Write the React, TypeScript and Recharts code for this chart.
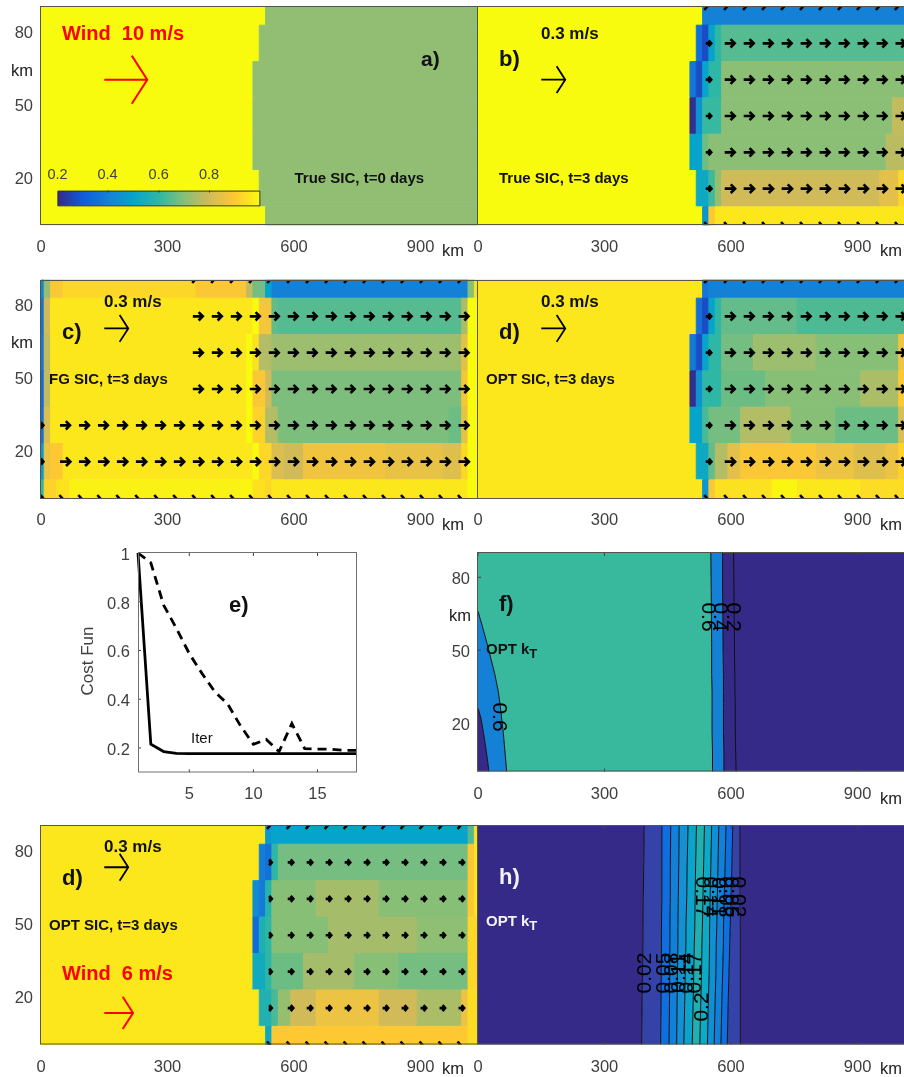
import React from "react";
import { ScatterChart, ComposedChart, Scatter, Area, Line, XAxis, YAxis, ReferenceArea } from "recharts";

const FONT = "'Liberation Sans', Arial, sans-serif";
const GREY = "#404040";
const X_TICKS = [0, 300, 600, 900];
const Y_TICKS = [20, 50, 80];
const X_MAX = 1035;
const Y_MAX = 90;
const ROW_CENTRES = [90, 75, 60, 45, 30, 15, 0];

// parula-like colormap: 0.2 .. 1.0
const PALETTE_VALUES = [0.2, 0.3, 0.4, 0.5, 0.6, 0.7, 0.8, 0.9, 1.0];
const PALETTE_COLOURS = ["#352a87", "#0f5cdd", "#1481d6", "#06a4ca", "#2eb7a4", "#87bf77", "#d1bb59", "#fec832", "#f9fb0e"];

function hex(c: string) {
  return [1, 3, 5].map((i) => parseInt(c.slice(i, i + 2), 16));
}
function sicColour(v: number) {
  let i = 0;
  while (i < PALETTE_VALUES.length - 2 && v > PALETTE_VALUES[i + 1]) i++;
  const t = Math.max(0, Math.min(1, (v - PALETTE_VALUES[i]) / 0.1));
  const a = hex(PALETTE_COLOURS[i]);
  const b = hex(PALETTE_COLOURS[i + 1]);
  return `rgb(${a.map((q, k) => Math.round(q + (b[k] - q) * t)).join(",")})`;
}

type Seg = number[];
// each row: [right edge km, SIC], rows top to bottom
const sicA: Seg[][] = [
  [[532.5, 1], [1035, 0.715]],
  [[517.5, 1], [1035, 0.715]],
  [[502.5, 1], [1035, 0.715]],
  [[502.5, 1], [1035, 0.715]],
  [[502.5, 1], [1035, 0.715]],
  [[517.5, 1], [1035, 0.715]],
  [[532.5, 1], [1035, 0.715]],
];
const sicB: Seg[][] = [
  [[532.5, 1], [1035, 0.4]],
  [[517.5, 1], [532.5, 0.35], [547.5, 0.27], [562.5, 0.5], [577.5, 0.6], [1035, 0.645]],
  [[502.5, 1], [517.5, 0.37], [532.5, 0.27], [547.5, 0.5], [577.5, 0.6], [1035, 0.705]],
  [[502.5, 1], [517.5, 0.21], [532.5, 0.45], [577.5, 0.61], [982.5, 0.705], [1035, 0.78]],
  [[502.5, 1], [532.5, 0.5], [547.5, 0.67], [967.5, 0.705], [1035, 0.77]],
  [[517.5, 1], [547.5, 0.52], [562.5, 0.62], [577.5, 0.72], [952.5, 0.8], [997.5, 0.84], [1035, 0.93]],
  [[532.5, 1], [547.5, 0.46], [562.5, 0.9], [1035, 0.96]],
];
const sicC: Seg[][] = [
  [[7.5, 0.42], [22.5, 0.72], [52.5, 0.89], [367.5, 0.93], [487.5, 0.89], [502.5, 0.78], [532.5, 0.68], [547.5, 0.5], [1012.5, 0.4], [1027.5, 0.7], [1035, 0.95]],
  [[7.5, 0.36], [22.5, 0.8], [502.5, 0.96], [517.5, 1], [547.5, 0.88], [562.5, 0.66], [997.5, 0.645], [1012.5, 0.75], [1035, 1]],
  [[7.5, 0.37], [22.5, 0.78], [487.5, 0.96], [502.5, 1], [517.5, 0.95], [547.5, 0.76], [997.5, 0.73], [1012.5, 0.84], [1035, 1]],
  [[7.5, 0.34], [22.5, 0.78], [487.5, 0.96], [502.5, 1], [532.5, 0.89], [547.5, 0.8], [997.5, 0.69], [1012.5, 0.88], [1035, 1]],
  [[7.5, 0.36], [22.5, 0.82], [487.5, 0.96], [502.5, 1], [532.5, 0.92], [562.5, 0.76], [967.5, 0.69], [997.5, 0.67], [1012.5, 0.85], [1035, 1]],
  [[7.5, 0.47], [22.5, 0.86], [52.5, 0.9], [502.5, 0.96], [517.5, 1], [547.5, 0.93], [577.5, 0.82], [622.5, 0.8], [817.5, 0.87], [952.5, 0.85], [997.5, 0.83], [1012.5, 0.93], [1035, 1]],
  [[7.5, 0.6], [37.5, 0.92], [67.5, 0.95], [472.5, 0.98], [502.5, 0.99], [532.5, 0.95], [547.5, 0.93], [1012.5, 0.96], [1035, 1]],
];
const sicD: Seg[][] = [
  [[532.5, 0.96], [547.5, 0.37], [1035, 0.4]],
  [[517.5, 0.96], [532.5, 0.35], [547.5, 0.27], [562.5, 0.5], [577.5, 0.6], [757.5, 0.66], [1035, 0.635]],
  [[502.5, 0.96], [517.5, 0.38], [532.5, 0.27], [547.5, 0.5], [577.5, 0.6], [652.5, 0.68], [802.5, 0.73], [997.5, 0.7], [1035, 0.87]],
  [[502.5, 0.96], [517.5, 0.21], [532.5, 0.45], [577.5, 0.6], [682.5, 0.67], [907.5, 0.7], [997.5, 0.75], [1035, 0.9]],
  [[502.5, 0.96], [532.5, 0.5], [547.5, 0.63], [622.5, 0.68], [742.5, 0.76], [847.5, 0.7], [997.5, 0.67], [1035, 0.82]],
  [[517.5, 0.96], [547.5, 0.52], [562.5, 0.66], [592.5, 0.76], [622.5, 0.84], [802.5, 0.89], [892.5, 0.86], [967.5, 0.83], [997.5, 0.86], [1035, 0.92]],
  [[532.5, 0.96], [547.5, 0.46], [562.5, 0.89], [697.5, 0.95], [757.5, 0.99], [907.5, 0.96], [1035, 0.94]],
];
const sicG: Seg[][] = [
  [[532.5, 0.96], [547.5, 0.47], [1012.5, 0.5], [1027.5, 0.64], [1035, 0.95]],
  [[517.5, 0.96], [532.5, 0.39], [547.5, 0.36], [562.5, 0.6], [622.5, 0.68], [1012.5, 0.68], [1027.5, 0.89], [1035, 0.96]],
  [[502.5, 0.96], [517.5, 0.43], [532.5, 0.38], [547.5, 0.58], [652.5, 0.7], [802.5, 0.74], [1012.5, 0.7], [1027.5, 0.9], [1035, 0.96]],
  [[502.5, 0.96], [517.5, 0.34], [532.5, 0.56], [547.5, 0.6], [682.5, 0.7], [892.5, 0.74], [1012.5, 0.71], [1035, 0.93]],
  [[502.5, 0.96], [532.5, 0.53], [547.5, 0.6], [622.5, 0.67], [742.5, 0.74], [847.5, 0.7], [1012.5, 0.68], [1035, 0.93]],
  [[517.5, 0.96], [547.5, 0.57], [562.5, 0.63], [592.5, 0.72], [652.5, 0.8], [802.5, 0.86], [892.5, 0.8], [997.5, 0.75], [1012.5, 0.86], [1035, 0.94]],
  [[532.5, 0.96], [547.5, 0.52], [1012.5, 0.9], [1035, 0.94]],
];

// arrow tails, km
const iceX = [540, 585, 630, 675, 720, 765, 810, 855, 900, 945, 990];
const fgUpperX = [360, 405, 450, 495, ...iceX];
const fgLowerX = [45, 90, 135, 180, 225, 270, 315, ...fgUpperX];
const fgEdgeX = [0, ...fgLowerX];
// [row km, speed m/s]
const arrowRowsTrue = [[90, 0.025], [75, 0.125], [60, 0.125], [45, 0.125], [30, 0.125], [15, 0.13], [0, 0.025]];
const arrowRowsOpt = [[90, 0.025], [75, 0.125], [60, 0.125], [45, 0.125], [30, 0.125], [15, 0.13], [0, 0.025]];
const arrowRowsWeak = [[90, 0.02], [75, 0.07], [60, 0.07], [45, 0.07], [30, 0.07], [15, 0.07], [0, 0.02]];

type Arrow = { x: number; y: number; u: number };
function arrows(xs: number[], rows: number[][]): Arrow[] {
  return xs.flatMap((x) => rows.map(([y, u]) => ({ x, y, u: x === iceX[0] ? u * 0.55 : u })));
}
const arrowsB = arrows(iceX, arrowRowsTrue);
const arrowsD = arrows(iceX, arrowRowsOpt);
const arrowsG = arrows(iceX, arrowRowsWeak);
const arrowsC: Arrow[] = [
  ...arrows(fgUpperX, [[90, 0.025], [75, 0.125], [60, 0.125], [45, 0.125]]).map((a) => ({ ...a, u: a.y === 90 ? a.u : a.x === iceX[0] ? 0.125 : a.u })),
  ...fgLowerX.flatMap((x) => [{ x, y: 30, u: 0.125 }, { x, y: 15, u: 0.13 }]),
  ...[{ x: 0, y: 30, u: 0.03 }, { x: 0, y: 15, u: 0.03 }],
  ...fgEdgeX.map((x) => ({ x, y: 0, u: 0.025 })),
];

const scaleWindA = [{ x: 150, y: 60, u: 10 }];
const scaleWindG = [{ x: 150, y: 13, u: 6 }];
const scaleB = [{ x: 150, y: 60, u: 0.3 }];
const scaleC = [{ x: 150, y: 70, u: 0.3 }];
const scaleG = [{ x: 150, y: 73, u: 0.3 }];

// cost function
const iter = [1, 2, 3, 4, 5, 6, 7, 8, 9, 10, 11, 12, 13, 14, 15, 16, 17, 18];
const costSolid = [1, 0.215, 0.185, 0.178, 0.177, 0.177, 0.177, 0.177, 0.177, 0.177, 0.177, 0.177, 0.177, 0.177, 0.177, 0.177, 0.177, 0.177];
const costDashed = [1, 0.96, 0.786, 0.69, 0.587, 0.505, 0.43, 0.38, 0.29, 0.215, 0.235, 0.185, 0.3, 0.197, 0.195, 0.195, 0.19, 0.19];
const costRows = iter.map((it, i) => ({ it, solid: costSolid[i], dashed: costDashed[i] }));

// panel f contours: km position per row
const fY = [0, 8, 16, 22, 26, 28, 33, 40, 51, 53, 60, 66, 74, 90];
const fDark = [26, 20, 13, 7, 0, 0, 0, 0, 0, 0, 0, 0, 0, 0];
const fBlue = [68, 64, 60, 56, 54, 52, 48, 40, 24, 21, 10, 0, 0, 0];
const f06 = [556, 556, 555, 555, 555, 555, 555, 554, 554, 554, 553, 553, 553, 552];
const f04 = [583, 583, 582, 582, 582, 582, 582, 582, 581, 581, 581, 580, 580, 580];
const f02 = [612, 611, 610, 610, 610, 610, 609, 609, 608, 608, 608, 607, 607, 606];
const fRows = fY.map((y, i) => ({ y, dark: fDark[i], blue: fBlue[i], c6: f06[i], c4: f04[i], c2: f02[i] }));

// panel h contours: line km per row
const hY = [0, 16, 29, 42, 48, 61, 74, 90];
const hTable = [
  [388, 433, 453, 471, 488, 508, 526, 544, 560, 576, 591, 622],
  [389, 434, 454, 472, 490, 510, 528, 546, 562, 578, 593, 622],
  [390, 434, 455, 473, 492, 512, 530, 548, 564, 580, 595, 622],
  [391, 435, 455, 474, 493, 513, 531, 549, 565, 582, 597, 622],
  [391, 435, 455, 474, 493, 514, 532, 549, 566, 582, 598, 622],
  [392, 436, 456, 475, 495, 515, 534, 551, 568, 584, 600, 622],
  [393, 436, 456, 476, 496, 516, 535, 552, 569, 586, 602, 621],
  [394, 436, 457, 477, 498, 518, 537, 554, 571, 588, 604, 621],
];
const hBands = ["#3543a8", "#0f6ee0", "#1080d8", "#1490d4", "#0ca3ca", "#20b0b0", "#0caac6", "#1090d4", "#1080d8", "#0f6ee0", "#3543a8"];
const hRows = hY.map((y, i) => ({ y, k: hTable[i] }));
const DARK = "#352a87";

const cbLabels = ["0.2", "0.4", "0.6", "0.8"];
const cbLabelX = [57.5, 107.5, 158.7, 209];
const hLow = ["0.02", "0.05", "0.08", "0.11", "0.14", "0.17"];
const hLowX = [643, 662, 670, 677.5, 685, 693];
const hHigh = ["0.17", "0.14", "0.11", "0.08", "0.05", "0.02"];
const hHighX = [703.5, 711.5, 719, 726, 732.5, 739];

const xTick = (plotH: number, show: boolean) => (p: any) => (
  <g>
    {show && <line x1={p.x} x2={p.x} y1={p.y} y2={p.y - 3} stroke={GREY} />}
    {show && <line x1={p.x} x2={p.x} y1={p.y - plotH} y2={p.y - plotH + 3} stroke={GREY} />}
    <text x={p.x} y={p.y + 21} textAnchor="middle" dominantBaseline="central" fontFamily={FONT} fontSize={16.5} fill={GREY}>
      {p.payload.value}
    </text>
  </g>
);
const yTick = (label: boolean, show: boolean) => (p: any) => (
  <g>
    {show && <line x1={p.x} x2={p.x + 3} y1={p.y} y2={p.y} stroke={GREY} />}
    {label && (
      <text x={p.x - 8} y={p.y + 1} textAnchor="end" dominantBaseline="central" fontFamily={FONT} fontSize={16.5} fill={GREY}>
        {p.payload.value}
      </text>
    )}
  </g>
);

const arrowShape = (pxPerUnit: number, colour: string, sw: number, big: boolean) => (p: any) => {
  const { cx, cy, payload } = p;
  if (cx == null || cy == null) return <g />;
  const len = payload.u * pxPerUnit;
  const back = big ? len * 0.36 : Math.max(2.6, len * 0.42);
  const half = big ? len * 0.56 : Math.max(3, len * 0.42);
  const tip = cx + len;
  return (
    <path
      d={`M${cx},${cy}L${tip},${cy}M${tip - back},${cy - half}L${tip},${cy}L${tip - back},${cy + half}`}
      fill="none"
      stroke={colour}
      strokeWidth={sw}
    />
  );
};

const Y_W = 40;
const X_H = 34;
const PW = 436.5;

function cells(rows: Seg[][]) {
  const out: React.ReactNode[] = [];
  rows.forEach((row, r) => {
    let start = 0;
    row.forEach(([end, v], c) => {
      const fill = sicColour(v);
      out.push(
        <ReferenceArea
          key={`${r}-${c}`}
          x1={start}
          x2={end}
          y1={Math.max(0, ROW_CENTRES[r] - 7.5)}
          y2={Math.min(Y_MAX, ROW_CENTRES[r] + 7.5)}
          fill={fill}
          fillOpacity={1}
          stroke={fill}
          strokeWidth={0.9}
        />
      );
      start = end;
    });
  });
  return out;
}

function SicPanel(props: { left: number; top: number; h: number; rows: Seg[][]; yLabel: boolean; arrowData?: Arrow[]; overlay?: React.ReactNode; scales?: React.ReactNode }) {
  const { left, top, h, rows, yLabel, arrowData, overlay, scales } = props;
  return (
    <div style={{ position: "absolute", left: left - Y_W, top: top - 2 }}>
      <ScatterChart width={Y_W + PW + 2} height={h + 2 + X_H} margin={{ top: 2, right: 2, left: 0, bottom: 0 }}>
        <XAxis type="number" dataKey="x" domain={[0, X_MAX]} ticks={X_TICKS} interval={0} allowDataOverflow axisLine={false} tickLine={false} tickSize={0} tickMargin={0} height={X_H} tick={xTick(h, false)} />
        <YAxis type="number" dataKey="y" domain={[0, Y_MAX]} ticks={Y_TICKS} interval={0} allowDataOverflow axisLine={false} tickLine={false} tickSize={0} tickMargin={0} width={Y_W} tick={yTick(yLabel, false)} />
        {cells(rows)}
        {overlay}
        {arrowData && <Scatter data={arrowData} isAnimationActive={false} shape={arrowShape(80, "#000", 2.6, false)} />}
        {scales}
      </ScatterChart>
    </div>
  );
}

function CostPanel() {
  return (
    <div style={{ position: "absolute", left: 138.3 - Y_W, top: 552.7 - 12 }}>
      <ComposedChart width={Y_W + 218 + 2} height={219.3 + 12 + X_H} data={costRows} margin={{ top: 12, right: 2, left: 0, bottom: 0 }}>
        <XAxis type="number" dataKey="it" domain={[1, 18]} ticks={[5, 10, 15]} interval={0} axisLine={false} tickLine={false} tickSize={0} tickMargin={0} height={X_H} tick={xTick(219.3, true)} />
        <YAxis type="number" domain={[0.1, 1]} ticks={[0.2, 0.4, 0.6, 0.8, 1]} interval={0} axisLine={false} tickLine={false} tickSize={0} tickMargin={0} width={Y_W} tick={yTick(true, true)} />
        <Line dataKey="solid" stroke="#000" strokeWidth={2.8} dot={false} isAnimationActive={false} />
        <Line dataKey="dashed" stroke="#000" strokeWidth={2.8} strokeDasharray="9 6" dot={false} isAnimationActive={false} />
      </ComposedChart>
    </div>
  );
}

function FPanel() {
  const contour = (key: string, gap: (y: number) => boolean, drop?: (r: any) => boolean) => (
    <Line
      key={key}
      dataKey={(r: any) => (gap(r.y) || (drop && drop(r)) ? null : r[key])}
      stroke="#111"
      strokeWidth={1}
      dot={false}
      isAnimationActive={false}
    />
  );
  const rightGap = (y: number) => y > 53 && y < 74;
  return (
    <div style={{ position: "absolute", left: 478 - Y_W, top: 552.5 - 2 }}>
      <ComposedChart layout="vertical" width={Y_W + PW + 2} height={218.5 + 2 + X_H} data={fRows} margin={{ top: 2, right: 2, left: 0, bottom: 0 }}>
        <XAxis type="number" domain={[0, X_MAX]} ticks={X_TICKS} interval={0} allowDataOverflow axisLine={false} tickLine={false} tickSize={0} tickMargin={0} height={X_H} tick={xTick(218.5, true)} />
        <YAxis reversed type="number" dataKey="y" domain={[0, Y_MAX]} ticks={Y_TICKS} interval={0} axisLine={false} tickLine={false} tickSize={0} tickMargin={0} width={Y_W} tick={yTick(true, true)} />
        <Area dataKey={(r: any) => [r.blue, r.c6]} fill="#38b99e" fillOpacity={1} stroke="none" isAnimationActive={false} />
        <Area dataKey={(r: any) => [r.dark, r.blue]} fill="#1481d6" fillOpacity={1} stroke="none" isAnimationActive={false} />
        <Area dataKey={(r: any) => [0, r.dark]} fill={DARK} fillOpacity={1} stroke="none" isAnimationActive={false} />
        <Area dataKey={(r: any) => [r.c6, r.c4]} fill="#1481d6" fillOpacity={1} stroke="none" isAnimationActive={false} />
        <Area dataKey={(r: any) => [r.c4, X_MAX]} fill={DARK} fillOpacity={1} stroke="none" isAnimationActive={false} />
        {contour("dark", () => false, (r) => r.y > 26)}
        {contour("blue", (y) => y > 16 && y < 28, (r) => r.y > 66)}
        {contour("c6", rightGap)}
        {contour("c4", rightGap)}
        {contour("c2", rightGap)}
      </ComposedChart>
    </div>
  );
}

function HPanel() {
  const boundaries = hTable[0].map((_, i) => i);
  return (
    <div style={{ position: "absolute", left: 478 - Y_W, top: 825.5 - 2 }}>
      <ComposedChart layout="vertical" width={Y_W + PW + 2} height={218.5 + 2 + X_H} data={hRows} margin={{ top: 2, right: 2, left: 0, bottom: 0 }}>
        <XAxis type="number" domain={[0, X_MAX]} ticks={X_TICKS} interval={0} allowDataOverflow axisLine={false} tickLine={false} tickSize={0} tickMargin={0} height={X_H} tick={xTick(218.5, true)} />
        <YAxis reversed type="number" dataKey="y" domain={[0, Y_MAX]} ticks={Y_TICKS} interval={0} axisLine={false} tickLine={false} tickSize={0} tickMargin={0} width={Y_W} tick={yTick(false, true)} />
        <Area dataKey={(r: any) => [0, r.k[0]]} fill={DARK} fillOpacity={1} stroke="none" isAnimationActive={false} />
        {hBands.map((c, i) => (
          <Area key={`b${i}`} dataKey={(r: any) => [r.k[i], r.k[i + 1]]} fill={c} fillOpacity={1} stroke="none" isAnimationActive={false} />
        ))}
        <Area dataKey={(r: any) => [r.k[11], X_MAX]} fill={DARK} fillOpacity={1} stroke="none" isAnimationActive={false} />
        {boundaries.map((i) => (
          <Line
            key={`l${i}`}
            dataKey={(r: any) => ((i < 6 ? r.y === 29 : r.y === 61) ? null : r.k[i])}
            stroke="#111"
            strokeWidth={1}
            dot={false}
            isAnimationActive={false}
          />
        ))}
      </ComposedChart>
    </div>
  );
}

const T = (p: { x: number; y: number; s: number; b?: boolean; c?: string; a?: string; children: React.ReactNode }) => (
  <text x={p.x} y={p.y} fontSize={p.s} fontWeight={p.b ? 700 : 400} fill={p.c || "#111"} textAnchor={(p.a as any) || "start"} dominantBaseline="central" fontFamily={FONT}>
    {p.children}
  </text>
);
const R = (p: { x: number; y: number; r: number; children: React.ReactNode }) => (
  <text x={p.x} y={p.y} fontSize={21} fill="#000" textAnchor="middle" dominantBaseline="central" fontFamily={FONT} transform={`rotate(${p.r} ${p.x} ${p.y})`}>
    {p.children}
  </text>
);

function Overlay() {
  const frames = [
    [40.5, 6.5, 437, 218],
    [477.5, 6.5, 437, 218],
    [40.5, 280.5, 437, 218],
    [477.5, 280.5, 437, 218],
    [40.5, 825.5, 437, 218.5],
    [477.5, 825.5, 437, 218.5],
    [477.5, 552.5, 437, 218.5],
    [138.5, 552.5, 218, 219.5],
  ];
  return (
    <svg width={904} height={1077} style={{ position: "absolute", left: 0, top: 0, pointerEvents: "none" }}>
      <defs>
        <linearGradient id="sicGrad" x1="0" x2="1" y1="0" y2="0">
          {PALETTE_COLOURS.map((c, i) => (
            <stop key={c} offset={`${i * 12.5}%`} stopColor={c} />
          ))}
        </linearGradient>
      </defs>
      {frames.map((f, i) => (
        <rect key={i} x={f[0]} y={f[1]} width={f[2]} height={f[3]} fill="none" stroke={i === 7 ? "#707070" : "#55554a"} strokeWidth={1} />
      ))}
      <T x={62} y={33} s={20} b c="#f00">{"Wind\u00a0\u00a010 m/s"}</T>
      <T x={421} y={58} s={21} b>a)</T>
      <T x={294.5} y={177} s={15} b>True SIC, t=0 days</T>
      {cbLabels.map((l, i) => (
        <T key={l} x={cbLabelX[i]} y={174} s={14.5} c={GREY} a="middle">{l}</T>
      ))}
      {[108, 159, 209.5].map((x) => (
        <line key={x} x1={x} x2={x} y1={190.5} y2={192.5} stroke="#333" />
      ))}
      <T x={541} y={33} s={17} b>0.3 m/s</T>
      <T x={499} y={58} s={22} b>b)</T>
      <T x={499} y={177} s={15} b>True SIC, t=3 days</T>
      <T x={104} y={301} s={17} b>0.3 m/s</T>
      <T x={62} y={331} s={22} b>c)</T>
      <T x={49} y={378} s={15} b>FG SIC, t=3 days</T>
      <T x={541} y={301} s={17} b>0.3 m/s</T>
      <T x={499} y={331} s={22} b>d)</T>
      <T x={486} y={378} s={15} b>OPT SIC, t=3 days</T>
      <T x={229} y={604} s={22} b>e)</T>
      <T x={191} y={737} s={15}>Iter</T>
      <text x={87} y={661} fontSize={17} fill={GREY} textAnchor="middle" dominantBaseline="central" fontFamily={FONT} transform="rotate(-90 87 661)">Cost Fun</text>
      <T x={499} y={603} s={22} b>f)</T>
      <text x={486} y={648} fontSize={15} fontWeight={700} fill="#111" dominantBaseline="central" fontFamily={FONT}>OPT k<tspan fontSize={13} dy={5}>T</tspan></text>
      <R x={500} y={717} r={90}>0.6</R>
      <R x={709} y={617} r={90}>0.6</R>
      <R x={721} y={617} r={90}>0.4</R>
      <R x={734} y={617} r={90}>0.2</R>
      <T x={104} y={846} s={17} b>0.3 m/s</T>
      <T x={62} y={877} s={22} b>d)</T>
      <T x={49} y={924} s={15} b>OPT SIC, t=3 days</T>
      <T x={62} y={973} s={20} b c="#f00">{"Wind\u00a0\u00a06 m/s"}</T>
      <T x={499} y={876} s={22} b c="#f2f2f2">h)</T>
      <text x={486} y={920} fontSize={15} fontWeight={700} fill="#f2f2f2" dominantBaseline="central" fontFamily={FONT}>OPT k<tspan fontSize={13} dy={5}>T</tspan></text>
      {hLow.map((l, i) => (
        <R key={`lo${i}`} x={hLowX[i]} y={973} r={-90}>{l}</R>
      ))}
      <R x={700.7} y={1007} r={-90}>0.2</R>
      {hHigh.map((l, i) => (
        <R key={`hi${i}`} x={hHighX[i]} y={897} r={90}>{l}</R>
      ))}
      {[[22, 70], [22, 342], [460, 615], [453, 250], [891, 250], [453, 524], [891, 524], [891, 798], [453, 1067.5], [891, 1067.5]].map(([x, y], i) => (
        <T key={`km${i}`} x={x} y={y} s={16.5} c="#222" a="middle">km</T>
      ))}
    </svg>
  );
}

const colourBar = (
  <ReferenceArea x1={40} x2={519} y1={7.9} y2={14} fill="url(#sicGrad)" fillOpacity={1} stroke="#333" strokeWidth={1} />
);

export default function App() {
  return (
    <div style={{ position: "absolute", left: 0, top: 0, width: 904, height: 1077, overflow: "hidden", background: "#fff", filter: "blur(0.35px)" }}>
      <SicPanel
        left={40.5}
        top={6.5}
        h={218}
        rows={sicA}
        yLabel
        overlay={colourBar}
        scales={<Scatter data={scaleWindA} isAnimationActive={false} shape={arrowShape(4.3, "#f00", 2, true)} />}
      />
      <SicPanel
        left={478}
        top={6.5}
        h={218}
        rows={sicB}
        yLabel={false}
        arrowData={arrowsB}
        scales={<Scatter data={scaleB} isAnimationActive={false} shape={arrowShape(80, "#000", 1.8, true)} />}
      />
      <SicPanel
        left={40.5}
        top={280}
        h={218}
        rows={sicC}
        yLabel
        arrowData={arrowsC}
        scales={<Scatter data={scaleC} isAnimationActive={false} shape={arrowShape(80, "#000", 1.8, true)} />}
      />
      <SicPanel
        left={478}
        top={280}
        h={218}
        rows={sicD}
        yLabel={false}
        arrowData={arrowsD}
        scales={<Scatter data={scaleC} isAnimationActive={false} shape={arrowShape(80, "#000", 1.8, true)} />}
      />
      <CostPanel />
      <FPanel />
      <SicPanel
        left={40.5}
        top={825.5}
        h={218.5}
        rows={sicG}
        yLabel
        arrowData={arrowsG}
        scales={
          <>
            <Scatter data={scaleG} isAnimationActive={false} shape={arrowShape(80, "#000", 1.8, true)} />
            <Scatter data={scaleWindG} isAnimationActive={false} shape={arrowShape(4.8, "#f00", 2, true)} />
          </>
        }
      />
      <HPanel />
      <Overlay />
    </div>
  );
}
